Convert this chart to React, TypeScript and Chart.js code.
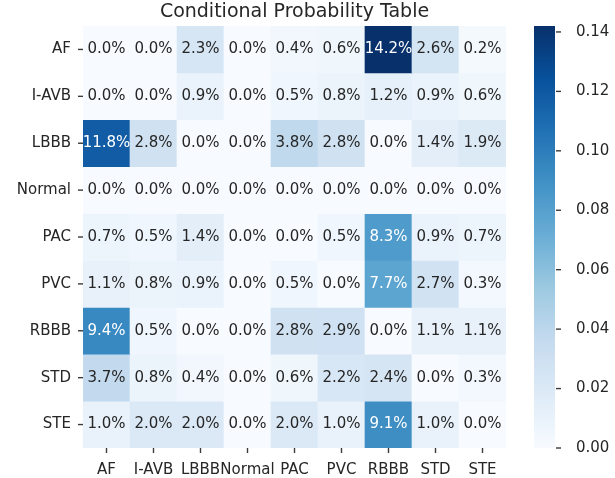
import React, { useEffect, useRef } from "react";
import { Chart, registerables } from "chart.js";

Chart.register(...registerables);

const TITLE = "Conditional Probability Table";
const CATEGORIES = ["AF", "I-AVB", "LBBB", "Normal", "PAC", "PVC", "RBBB", "STD", "STE"];

// Rows (given label) in percent, columns follow CATEGORIES
const ROW_AF = [0.0, 0.0, 2.3, 0.0, 0.4, 0.6, 14.2, 2.6, 0.2];
const ROW_IAVB = [0.0, 0.0, 0.9, 0.0, 0.5, 0.8, 1.2, 0.9, 0.6];
const ROW_LBBB = [11.8, 2.8, 0.0, 0.0, 3.8, 2.8, 0.0, 1.4, 1.9];
const ROW_NORMAL = [0.0, 0.0, 0.0, 0.0, 0.0, 0.0, 0.0, 0.0, 0.0];
const ROW_PAC = [0.7, 0.5, 1.4, 0.0, 0.0, 0.5, 8.3, 0.9, 0.7];
const ROW_PVC = [1.1, 0.8, 0.9, 0.0, 0.5, 0.0, 7.7, 2.7, 0.3];
const ROW_RBBB = [9.4, 0.5, 0.0, 0.0, 2.8, 2.9, 0.0, 1.1, 1.1];
const ROW_STD = [3.7, 0.8, 0.4, 0.0, 0.6, 2.2, 2.4, 0.0, 0.3];
const ROW_STE = [1.0, 2.0, 2.0, 0.0, 2.0, 1.0, 9.1, 1.0, 0.0];

const ROWS = [ROW_AF, ROW_IAVB, ROW_LBBB, ROW_NORMAL, ROW_PAC, ROW_PVC, ROW_RBBB, ROW_STD, ROW_STE];

const COLORBAR_TICKS = [0, 0.02, 0.04, 0.06, 0.08, 0.1, 0.12, 0.14];

const BLUES = ["#f7fbff", "#deebf7", "#c6dbef", "#9ecae1", "#6baed6", "#4292c6", "#2171b5", "#08519c", "#08306b"];

const FONT = "'DejaVu Sans', sans-serif";
const TEXT_DARK = "#262626";
const TICK_COLOR = "#3a3a3a";
const TICK_LEN = 5;
const TICK_W = 1.4;

const VMAX = Math.max(...ROWS.flat()) / 100;

function hexToRgb(h: string): number[] {
  return [1, 3, 5].map((i) => parseInt(h.slice(i, i + 2), 16));
}

function bluesRgb(t: number): number[] {
  const tt = Math.max(0, Math.min(1, t));
  const pos = tt * (BLUES.length - 1);
  const i = Math.min(Math.floor(pos), BLUES.length - 2);
  const f = pos - i;
  const a = hexToRgb(BLUES[i]);
  const b = hexToRgb(BLUES[i + 1]);
  return a.map((v, k) => v + (b[k] - v) * f);
}

function rgbStr(c: number[]): string {
  return `rgb(${c.map((v) => Math.round(v)).join(",")})`;
}

function luminance(c: number[]): number {
  const lin = c.map((v) => {
    const s = v / 255;
    return s <= 0.03928 ? s / 12.92 : Math.pow((s + 0.055) / 1.055, 2.4);
  });
  return 0.2126 * lin[0] + 0.7152 * lin[1] + 0.0722 * lin[2];
}

function strokeSeg(ctx: any, x1: number, y1: number, x2: number, y2: number) {
  ctx.beginPath();
  ctx.moveTo(x1, y1);
  ctx.lineTo(x2, y2);
  ctx.stroke();
}

export default function App() {
  const mainRef = useRef<HTMLCanvasElement>(null);
  const cbRef = useRef<HTMLCanvasElement>(null);

  useEffect(() => {
    const datasets = ROWS.map((row, r) => ({
      label: CATEGORIES[r],
      data: row.map(() => [r, r + 1]),
      backgroundColor: row.map((v) => rgbStr(bluesRgb(v / 100 / VMAX))),
      borderWidth: 0,
      barPercentage: 1,
      categoryPercentage: 1,
      grouped: false,
    }));

    const annotPlugin = {
      id: "annot",
      afterDatasetsDraw(chart: any) {
        const ctx = chart.ctx;
        const area = chart.chartArea;
        ctx.save();
        ctx.font = `15px ${FONT}`;
        ctx.textAlign = "center";
        ctx.textBaseline = "middle";
        ROWS.forEach((row, r) => {
          const meta = chart.getDatasetMeta(r);
          row.forEach((v, c) => {
            const el = meta.data[c];
            const col = bluesRgb(v / 100 / VMAX);
            ctx.fillStyle = luminance(col) > 0.408 ? TEXT_DARK : "#ffffff";
            ctx.fillText(v.toFixed(1) + "%", el.x, (el.y + el.base) / 2);
          });
        });
        // tick marks, positioned from the bar elements
        ctx.strokeStyle = TICK_COLOR;
        ctx.lineWidth = TICK_W;
        const firstRow = chart.getDatasetMeta(0).data;
        firstRow.forEach((el: any) => {
          strokeSeg(ctx, el.x, area.bottom, el.x, area.bottom + TICK_LEN);
        });
        ROWS.forEach((_row, r) => {
          const el = chart.getDatasetMeta(r).data[0];
          const yc = (el.y + el.base) / 2;
          strokeSeg(ctx, area.left - TICK_LEN, yc, area.left, yc);
        });
        ctx.fillStyle = TEXT_DARK;
        ctx.font = `19px ${FONT}`;
        ctx.textBaseline = "alphabetic";
        ctx.fillText(TITLE, (area.left + area.right) / 2, 17);
        ctx.restore();
      },
    };

    const main = new Chart(mainRef.current!, {
      type: "bar",
      data: { labels: CATEGORIES, datasets: datasets as any },
      options: {
        responsive: false,
        animation: false,
        devicePixelRatio: 1,
        layout: { padding: { top: 26, right: 14, left: 0, bottom: 0 } },
        plugins: { legend: { display: false }, tooltip: { enabled: false }, title: { display: false } },
        scales: {
          x: {
            type: "category",
            grid: { display: false },
            border: { display: false },
            ticks: { color: TEXT_DARK, font: { family: FONT, size: 15 }, padding: 5, maxRotation: 0, autoSkip: false },
            afterFit: (s: any) => { s.height = 30; },
          },
          y: {
            type: "linear",
            position: "left",
            min: 0,
            max: 9,
            reverse: true,
            grid: { display: false },
            border: { display: false },
            afterBuildTicks: (s: any) => { s.ticks = CATEGORIES.map((_, i) => ({ value: i + 0.5 })); },
            ticks: {
              color: TEXT_DARK,
              font: { family: FONT, size: 15 },
              padding: 4,
              autoSkip: false,
              callback: (_v: any, i: number) => CATEGORIES[i],
            },
            afterFit: (s: any) => { s.width = 83; },
          },
        },
      },
      plugins: [annotPlugin],
    });

    const cbTicksPlugin = {
      id: "cbTicks",
      afterDatasetsDraw(chart: any) {
        const ctx = chart.ctx;
        const area = chart.chartArea;
        const ys = chart.scales.y;
        ctx.save();
        ctx.strokeStyle = TICK_COLOR;
        ctx.lineWidth = TICK_W;
        COLORBAR_TICKS.forEach((v) => {
          const p = ys.getPixelForValue(v);
          strokeSeg(ctx, area.right + 1, p, area.right + 1 + TICK_LEN, p);
        });
        ctx.restore();
      },
    };

    const cb = new Chart(cbRef.current!, {
      type: "bar",
      data: {
        labels: ["cb"],
        datasets: [
          {
            data: [[0, VMAX]] as any,
            barPercentage: 1,
            categoryPercentage: 1,
            borderWidth: 0,
            backgroundColor: (ctx: any) => {
              const chart = ctx.chart;
              const ys = chart.scales.y;
              if (!ys || !chart.chartArea) return BLUES[4];
              const g = chart.ctx.createLinearGradient(0, ys.getPixelForValue(0), 0, ys.getPixelForValue(VMAX));
              BLUES.forEach((c, i) => g.addColorStop(i / (BLUES.length - 1), c));
              return g;
            },
          },
        ],
      },
      options: {
        responsive: false,
        animation: false,
        devicePixelRatio: 1,
        layout: { padding: { top: 26, left: 14, bottom: 30, right: 0 } },
        plugins: { legend: { display: false }, tooltip: { enabled: false } },
        scales: {
          x: { display: false },
          y: {
            type: "linear",
            position: "right",
            min: 0,
            max: VMAX,
            grid: { display: false },
            border: { display: false },
            afterBuildTicks: (s: any) => { s.ticks = COLORBAR_TICKS.map((v) => ({ value: v })); },
            ticks: {
              color: TEXT_DARK,
              font: { family: FONT, size: 15 },
              padding: 13,
              callback: (v: any) => Number(v).toFixed(2),
            },
            afterFit: (s: any) => { s.width = 60; },
          },
        },
      },
      plugins: [cbTicksPlugin],
    });

    return () => {
      main.destroy();
      cb.destroy();
    };
  }, []);

  return (
    <div style={{ position: "absolute", left: 0, top: 0, width: 615, height: 478, background: "#fff" }}>
      <canvas ref={mainRef} width={520} height={478} style={{ position: "absolute", left: 0, top: 0 }} />
      <canvas ref={cbRef} width={95} height={478} style={{ position: "absolute", left: 520, top: 0 }} />
    </div>
  );
}
